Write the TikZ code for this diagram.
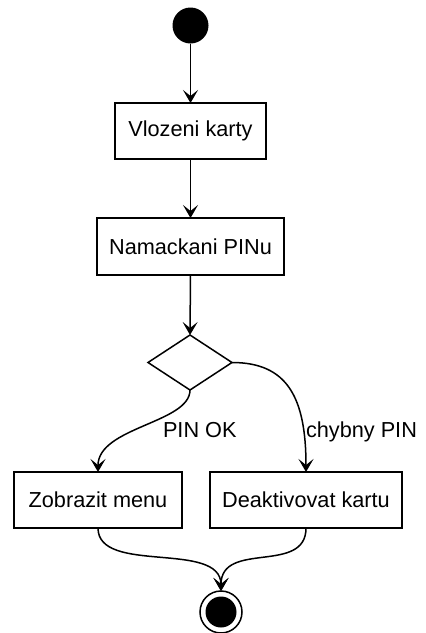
\documentclass[tikz,border=0pt]{standalone}
\usepackage{fontspec}
\setmainfont{Liberation Sans}
\usetikzlibrary{shapes.geometric,arrows.meta}
\begin{document}
\begin{tikzpicture}[x=1pt,y=-1pt,
  every node/.style={font=\fontsize{21.7}{26}\selectfont, outer sep=0pt},
  actbox/.style={draw, line width=1.5pt, rectangle, inner sep=0pt, minimum height=56pt},
  flow/.style={line width=1.5pt, -{Stealth[length=13pt,width=15pt,inset=6pt]}},
  guard/.style={anchor=base west, inner sep=0pt}]
\useasboundingbox (0,0) rectangle (426,633);

% start and end markers
\node (start) [circle, fill=black, minimum size=36pt, inner sep=0pt] at (190.5,25.5) {};
\node (end) [circle, draw, line width=1.5pt, minimum size=42pt, inner sep=0pt,
  path picture={\fill (path picture bounding box.center) circle (15.5pt);}] at (221,612) {};

% actions
\node (vloz) [actbox, minimum width=151pt] at (190.5,131) {Vlozeni karty};
\node (pin)  [actbox, minimum width=187pt, minimum height=57pt] at (190.5,246.5) {Namackani PINu};
\node (dec)  [diamond, draw, line width=1.5pt, inner sep=0pt, minimum width=84pt, minimum height=55pt] at (190,362.5) {};
\node (menu) [actbox, minimum width=168pt] at (98,500) {Zobrazit menu};
\node (deak) [actbox, minimum width=192pt] at (306,500) {Deaktivovat kartu};

% guard labels
\node (ok)  [guard] at (163,437) {PIN OK};
\node (bad) [guard] at (306,437) {chybny PIN};

% control flow
\draw[flow] (start) -- (vloz);
\draw[flow] (vloz) -- (pin);
\draw[flow] (pin.south) -- (dec.north);
\draw[flow] (dec.south) .. controls +(0,33) and +(0,-45) .. (menu.north);
\draw[flow] (dec.east) .. controls +(55,0) and +(0,-75) .. (deak.north);
\draw[flow] (menu.south) .. controls +(0,47) and +(0,-51) .. (end.north);
\draw[flow] (deak.south) .. controls +(0,47) and +(0,-51) .. (end.north);
\end{tikzpicture}
\end{document}
